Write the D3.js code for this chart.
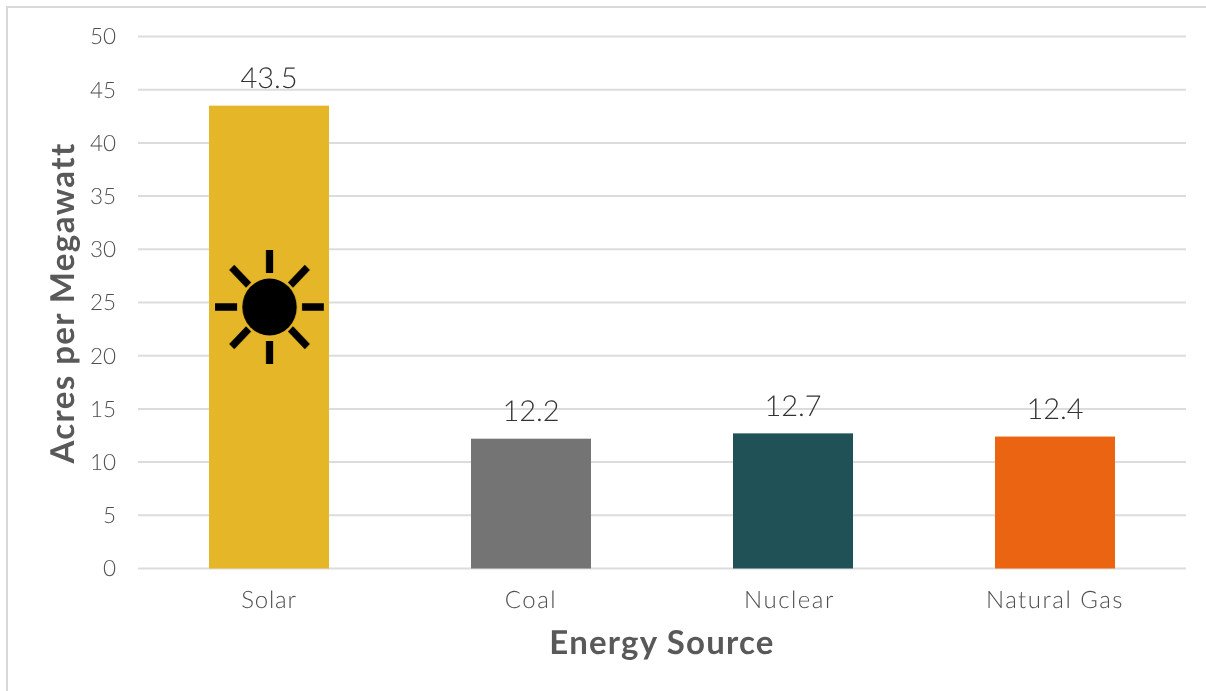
<!DOCTYPE html>
<html>
<head>
<meta charset="utf-8">
<script src="https://cdn.jsdelivr.net/npm/d3@7/dist/d3.min.js"></script>
<style>
html,body{margin:0;padding:0;background:#fff;}
svg{display:block;}
text{font-family:Lato,"Open Sans",sans-serif;text-rendering:geometricPrecision;}
.labels{opacity:.999;}
</style>
</head>
<body>
<svg id="chart" width="1206" height="691"></svg>
<script>
// Land use per megawatt for each energy source
const categories = ["Solar", "Coal", "Nuclear", "Natural Gas"];
const acresPerMegawatt = [43.5, 12.2, 12.7, 12.4];
const barColors = ["#e5b627", "#747474", "#1f5157", "#eb6412"];
const yTicks = [0, 5, 10, 15, 20, 25, 30, 35, 40, 45, 50];

const svg = d3.select("#chart");
const plotLeft = 138, plotRight = 1186, plotTop = 36.5, plotBottom = 568.5;

const x = d3.scaleBand().domain(categories).range([plotLeft, plotRight]).paddingInner(142 / 262).paddingOuter(71 / 262);
const y = d3.scaleLinear().domain([0, 50]).range([plotBottom, plotTop]);

// Chart frame: only the top and left edges fall inside the canvas
svg.append("path")
  .attr("d", d3.line()([[7, 691], [7, 7], [1206, 7]]))
  .attr("fill", "none").attr("stroke", "#d9d9d9").attr("stroke-width", 2);

// Gridlines
svg.append("g").selectAll("line").data(yTicks).join("line")
  .attr("x1", plotLeft).attr("x2", plotRight)
  .attr("y1", d => y(d)).attr("y2", d => y(d))
  .attr("stroke", "#dcdcdc").attr("stroke-width", 2);

// Bars
svg.append("g").selectAll("rect").data(categories).join("rect")
  .attr("x", d => x(d)).attr("width", x.bandwidth())
  .attr("y", (d, i) => y(acresPerMegawatt[i]))
  .attr("height", (d, i) => y(0) - y(acresPerMegawatt[i]))
  .attr("fill", (d, i) => barColors[i]);

const labels = svg.append("g").attr("class", "labels");

// Value axis labels
labels.append("g").selectAll("text").data(yTicks).join("text")
  .attr("x", 116).attr("y", d => y(d)).attr("dy", "0.35em")
  .attr("text-anchor", "end").attr("font-size", 22.5).attr("font-weight", 300)
  .attr("fill", "#4f4f4f").text(d => d);

// Value labels above bars
labels.append("g").selectAll("text").data(categories).join("text")
  .attr("x", d => x(d) + x.bandwidth() / 2)
  .attr("y", (d, i) => y(acresPerMegawatt[i]) - 17.5)
  .attr("text-anchor", "middle").attr("font-size", 29).attr("font-weight", 300)
  .attr("fill", "#333").text((d, i) => acresPerMegawatt[i].toFixed(1));

// Category labels
labels.append("g").selectAll("text").data(categories).join("text")
  .attr("x", d => x(d) + x.bandwidth() / 2 + (d === "Nuclear" ? -3.5 : 0)).attr("y", 608)
  .attr("text-anchor", "middle").attr("font-size", 24).attr("font-weight", 300)
  .attr("letter-spacing", d => d === "Solar" ? 0.8 : 1.5)
  .attr("fill", "#4f4f4f").text(d => d);

// Axis titles
labels.append("text")
  .attr("x", 662).attr("y", 654).attr("text-anchor", "middle")
  .attr("font-size", 33).attr("font-weight", 700).attr("fill", "#595959")
  .attr("letter-spacing", 1.2)
  .text("Energy Source");
labels.append("text")
  .attr("transform", "translate(74,303) rotate(-90)").attr("text-anchor", "middle")
  .attr("font-size", 33).attr("font-weight", 700).attr("fill", "#595959")
  .attr("letter-spacing", 1.4)
  .text("Acres per Megawatt");

// Sun icon over the solar bar
const sun = svg.append("g").attr("transform", `translate(${x("Solar") + x.bandwidth() / 2 + 0.5},307) scale(0.955,1)`);
sun.append("circle").attr("r", 28.5).attr("fill", "#000");
d3.range(8).forEach(i => {
  sun.append("rect")
    .attr("x", -3.75).attr("y", i % 2 ? -56 : -57).attr("width", 7.5).attr("height", i % 2 ? 25 : 23)
    .attr("transform", `rotate(${i * 45})`)
    .attr("fill", "#000");
});
</script>
</body>
</html>
